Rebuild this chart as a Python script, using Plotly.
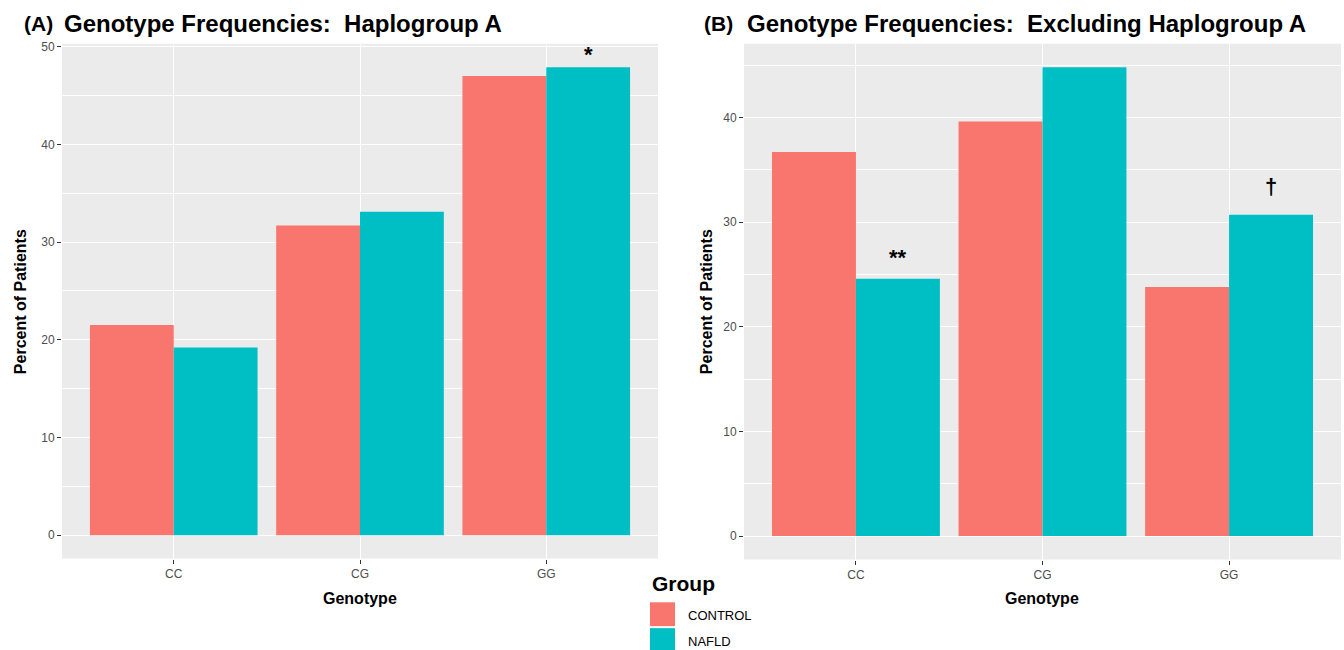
import plotly.graph_objects as go

genotypes = ["CC", "CG", "GG"]
groups = ["CONTROL", "NAFLD"]
colors = {"CONTROL": "#F8766D", "NAFLD": "#00BFC4"}

hapA_control = [21.5, 31.7, 47.0]
hapA_nafld = [19.2, 33.1, 47.9]
excl_control = [36.7, 39.6, 23.8]
excl_nafld = [24.6, 44.8, 30.7]

panelA_marks = [("GG", "*", 49.2)]
panelB_marks = [("CC", "**", 26.6), ("GG", "†", 33.4)]

W, H = 1344, 650
def px(x):
    return x / W
def py(y):
    return 1 - y / H

fig = go.Figure()
fig.add_trace(go.Bar(x=genotypes, y=hapA_control, name="CONTROL", marker_color=colors["CONTROL"],
                     marker_line_width=0, xaxis="x", yaxis="y", showlegend=False))
fig.add_trace(go.Bar(x=genotypes, y=hapA_nafld, name="NAFLD", marker_color=colors["NAFLD"],
                     marker_line_width=0, xaxis="x", yaxis="y", showlegend=False))
fig.add_trace(go.Bar(x=genotypes, y=excl_control, name="CONTROL", marker_color=colors["CONTROL"],
                     marker_line_width=0, xaxis="x2", yaxis="y2", showlegend=False))
fig.add_trace(go.Bar(x=genotypes, y=excl_nafld, name="NAFLD", marker_color=colors["NAFLD"],
                     marker_line_width=0, xaxis="x2", yaxis="y2", showlegend=False))

def yrange(vals):
    m = max(vals)
    return [-0.05 * m, m * 1.05]

tickfont = dict(family="Liberation Sans, Arial, sans-serif", size=12, color="#4D4D4D")
common_x = dict(type="category", range=[-0.6, 2.6], showgrid=True, gridcolor="white", gridwidth=1.2,
                ticks="outside", ticklen=4, tickcolor="#333333", tickfont=tickfont, zeroline=False,
                showline=False, fixedrange=True)
common_y = dict(showgrid=True, gridcolor="white", gridwidth=1.2, ticks="outside", ticklen=4,
                tickcolor="#333333", tickfont=tickfont, zeroline=False, showline=False, dtick=10,
                minor=dict(dtick=5, showgrid=True, gridcolor="white", gridwidth=0.6, ticks=""))

fig.update_layout(
    width=W, height=H,
    margin=dict(l=0, r=0, t=0, b=0),
    paper_bgcolor="white", plot_bgcolor="#EBEBEB",
    barmode="group", bargap=0.1, bargroupgap=0,
    font=dict(family="Liberation Sans, Arial, sans-serif"),
    xaxis=dict(domain=[px(62), px(658)], anchor="y", **common_x),
    yaxis=dict(domain=[py(558), py(40)], anchor="x", range=yrange(hapA_control + hapA_nafld), **common_y),
    xaxis2=dict(domain=[px(744), px(1341)], anchor="y2", **common_x),
    yaxis2=dict(domain=[py(559), py(40)], anchor="x2", range=yrange(excl_control + excl_nafld), **common_y),
)

ann = []
bold = "Liberation Sans, Arial, sans-serif"
# titles
ann.append(dict(text="<b>(A)</b>", x=px(22), y=py(20), xref="paper", yref="paper", xanchor="left",
                yanchor="middle", showarrow=False, font=dict(size=21, color="black", family=bold)))
ann.append(dict(text="<b>Genotype Frequencies:  Haplogroup A</b>", x=px(62), y=py(20), xref="paper",
                yref="paper", xanchor="left", yanchor="middle", showarrow=False,
                font=dict(size=24, color="black", family=bold)))
ann.append(dict(text="<b>(B)</b>", x=px(702), y=py(20), xref="paper", yref="paper", xanchor="left",
                yanchor="middle", showarrow=False, font=dict(size=21, color="black", family=bold)))
ann.append(dict(text="<b>Genotype Frequencies:  Excluding Haplogroup A</b>", x=px(745), y=py(20),
                xref="paper", yref="paper", xanchor="left", yanchor="middle", showarrow=False,
                font=dict(size=24, color="black", family=bold)))
# axis titles
for xc in (px(360), px(1042)):
    ann.append(dict(text="<b>Genotype</b>", x=xc, y=py(598), xref="paper", yref="paper",
                    xanchor="center", yanchor="middle", showarrow=False,
                    font=dict(size=16, color="black", family=bold)))
for xc, yc in ((px(20), py(300)), (px(706), py(300))):
    ann.append(dict(text="<b>Percent of Patients</b>", x=xc, y=yc, xref="paper", yref="paper",
                    xanchor="center", yanchor="middle", textangle=-90, showarrow=False,
                    font=dict(size=16, color="black", family=bold)))
# significance marks (NAFLD bar sits at category index + 0.225)
for cat, txt, yv in panelA_marks:
    ann.append(dict(text="<b>%s</b>" % txt, x=genotypes.index(cat) + 0.225, y=yv, xref="x", yref="y",
                    showarrow=False, yanchor="middle", font=dict(size=22, color="black", family=bold)))
for cat, txt, yv in panelB_marks:
    ann.append(dict(text="<b>%s</b>" % txt, x=genotypes.index(cat) + 0.225, y=yv, xref="x2", yref="y2",
                    showarrow=False, yanchor="middle", font=dict(size=22, color="black", family=bold)))
# legend
ann.append(dict(text="<b>Group</b>", x=px(650), y=py(583), xref="paper", yref="paper", xanchor="left",
                yanchor="middle", showarrow=False, font=dict(size=21, color="black", family=bold)))
shapes = []
for i, g in enumerate(groups):
    top = 602 + i * 26
    shapes.append(dict(type="rect", xref="paper", yref="paper", x0=px(650), x1=px(675),
                       y0=py(top + 24), y1=py(top), fillcolor=colors[g], line=dict(width=0)))
    ann.append(dict(text=g, x=px(686), y=py(top + 13), xref="paper", yref="paper", xanchor="left",
                    yanchor="middle", showarrow=False, font=dict(size=13, color="black", family=bold)))

fig.update_layout(annotations=ann, shapes=shapes)
fig.write_html("out.html", config={"displayModeBar": False},
               post_script="document.body.style.margin='0px';document.body.style.overflow='hidden';")
